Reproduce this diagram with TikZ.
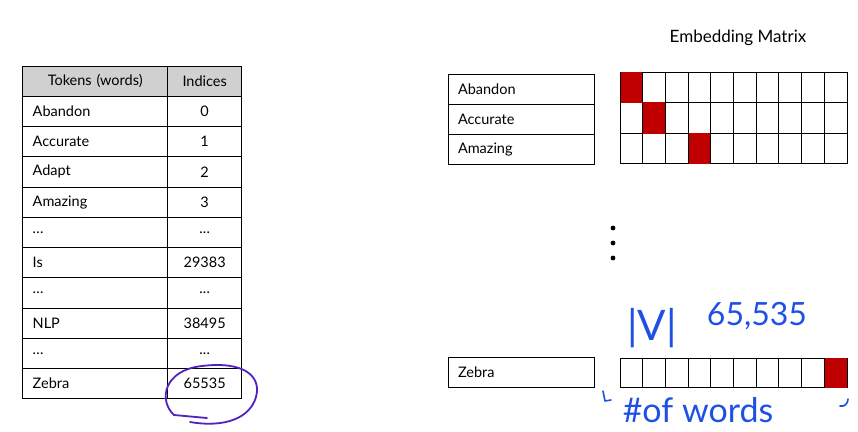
\documentclass[tikz,border=0pt]{standalone}
\usepackage{fontspec}
\setmainfont{Lato}
\definecolor{hdrgray}{HTML}{D0D0D0}
\definecolor{cellred}{HTML}{C00000}
\definecolor{inkblue}{HTML}{1E50E6}
\definecolor{inkpurple}{HTML}{5022C0}
\newcommand{\mydots}{.\kern0.3pt.\kern0.3pt.}
\begin{document}
\begin{tikzpicture}[x=1pt,y=-1pt,
  lbl/.style={font=\fontsize{14.5}{16}\selectfont},
  wordcell/.style={draw=black, line width=0.9pt, anchor=north west, inner xsep=10pt, inner ysep=0pt,
    outer sep=0pt, minimum height=#1, text width=125pt, align=left, lbl},
  idxcell/.style={draw=black, line width=0.9pt, anchor=north west, inner xsep=10pt, inner ysep=0pt,
    outer sep=0pt, minimum height=#1, text width=54pt, align=center, lbl},
  boxcell/.style={draw=black, line width=0.9pt, anchor=north west, inner xsep=10pt, inner ysep=0pt,
    outer sep=0pt, minimum height=#1, text width=126pt, align=left, lbl},
  mcell/.style={draw=black, line width=0.9pt, anchor=north west, inner sep=0pt, outer sep=0pt,
    minimum width=22.7pt, minimum height=#1},
  ink/.style={text=inkblue, font=\fontsize{#1}{#1}\selectfont},
  inkline/.style={draw=inkblue, line width=1.6pt, line cap=round, line join=round}
]
\useasboundingbox (0,0) rectangle (858,431);

% ---- left table ----
\node[wordcell=30.25pt, fill=hdrgray, align=center] (h1) at (22.7,66) {Tokens (words)};
\node[idxcell=30.25pt, fill=hdrgray] (h2) at (167.7,66) {Indices};
\foreach \w/\i [count=\k] in {Abandon/0, Accurate/1, Adapt/2, Amazing/3, \mydots/\mydots, Is/29383, \mydots/\mydots, NLP/38495, \mydots/\mydots, Zebra/65535}{
  \node[wordcell=30.25pt] (w\k) at (22.7,66+30.25*\k) {\w};
  \node[idxcell=30.25pt] (i\k) at (167.7,66+30.25*\k) {\i};
}

% ---- circle around 65535 ----
\draw[draw=inkpurple, line width=1.8pt, line cap=round]
  (207,418) -- (174,415)
  .. controls (158,400) and (164,370) .. (202,366)
  .. controls (242,361) and (262,375) .. (256,397)
  .. controls (250,418) and (225,428) .. (190,422);

% ---- right side ----
\node[lbl, font=\fontsize{17}{19}\selectfont] (title) at (738,38) {Embedding Matrix};

\foreach \w [count=\k from 0] in {Abandon, Accurate, Amazing}{
  \node[boxcell=30.3pt] (b\k) at (448,74+30.3*\k) {\w};
}
\foreach \r in {0,1,2}{
  \foreach \c in {0,1,2,3,4,5,6,7,8,9}{
    \node[mcell=30.3pt] (m\r\c) at (620+22.7*\c,72.5+30.3*\r) {};
  }
}
\fill[cellred] ([shift={(0.5pt,0.5pt)}]m00.north west) rectangle ([shift={(-0.5pt,-0.5pt)}]m00.south east);
\fill[cellred] ([shift={(0.5pt,0.5pt)}]m11.north west) rectangle ([shift={(-0.5pt,-0.5pt)}]m11.south east);
\fill[cellred] ([shift={(0.5pt,0.5pt)}]m23.north west) rectangle ([shift={(-0.5pt,-0.5pt)}]m23.south east);

% vertical dots
\foreach \y [count=\k] in {228,243,258}{
  \fill (613,\y) circle (2.4pt) coordinate (d\k);
}

\node[boxcell=30.5pt] (bz) at (448,357) {Zebra};
\foreach \c in {0,1,2,3,4,5,6,7,8,9}{
  \node[mcell=29.5pt] (z\c) at (620+22.7*\c,358) {};
}
\fill[cellred] ([shift={(0.5pt,0.5pt)}]z9.north west) rectangle ([shift={(-0.5pt,-0.5pt)}]z9.south east);

% ---- handwritten annotations ----
\node[ink=42] (vv) at (652,328) {|V|};
\node[ink=32] (cnt) at (757,316) {65,535};
\node[ink=34] (nw) at (698,410) {\#of words};
\draw[inkline] (603,391) -- (605,401) -- (611,400);
\draw[inkline] (840,406) .. controls (844,407) and (848,404) .. (848,399);
\end{tikzpicture}
\end{document}
